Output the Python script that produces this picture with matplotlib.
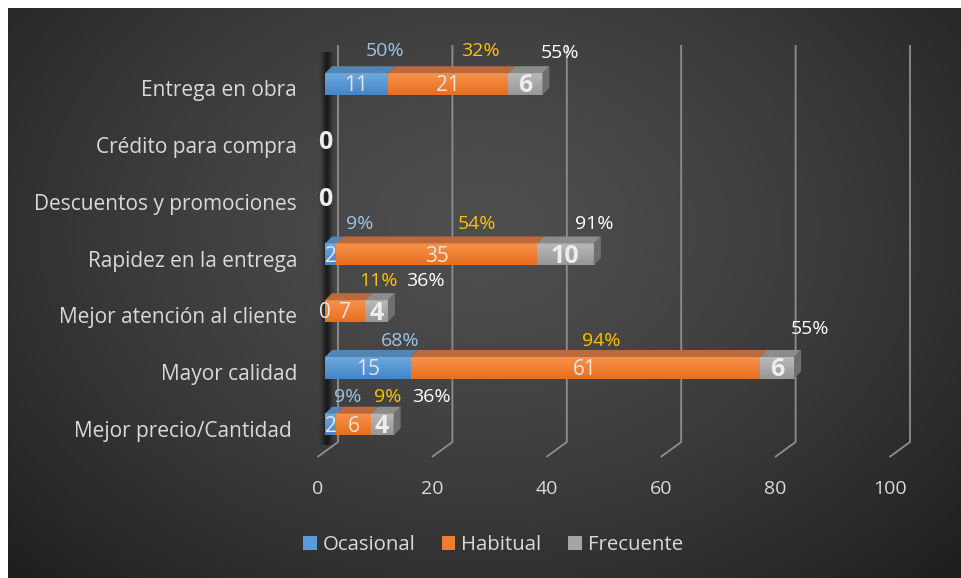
import numpy as np
import matplotlib
matplotlib.use("Agg")
import matplotlib.pyplot as plt
from matplotlib.patches import Polygon, Patch

# ---------------- data ----------------
categories = ["Entrega en obra", "Crédito para compra", "Descuentos y promociones",
              "Rapidez en la entrega", "Mejor atención al cliente", "Mayor calidad",
              "Mejor precio/Cantidad "]
series_names = ["Ocasional", "Habitual", "Frecuente"]
ocasional = [11, 0, 0, 2, 0, 15, 2]
habitual = [21, 0, 0, 35, 7, 61, 6]
frecuente = [6, 0, 0, 10, 4, 6, 4]
pct_ocasional = ["50%", "", "", "9%", "", "68%", "9%"]
pct_habitual = ["32%", "", "", "54%", "11%", "94%", "9%"]
pct_frecuente = ["55%", "", "", "91%", "36%", "55%", "36%"]
xticks = [0, 20, 40, 60, 80, 100]

# ---------------- layout / style ----------------
plt.rcParams['font.family'] = ['Open Sans', 'DejaVu Sans']
W, H = 961, 578
PXU = 5.72      # pixels per value unit
X0 = 325        # pixel of value 0 (bar front face)
ROW = 56.75     # pixels per category row
Y0 = 84         # pixel of first row centre


def dx(px):
    return px / PXU


def dy(px):
    return px / ROW


def py(p):
    return (p - Y0) / ROW


def pxx(p):
    return (p - X0) / PXU


front_top = {"Ocasional": "#6EA8DE", "Habitual": "#F7924C", "Frecuente": "#B9B9B9"}
front_bot = {"Ocasional": "#4486C8", "Habitual": "#E86F1E", "Frecuente": "#979797"}
top_col = {"Ocasional": "#5284B4", "Habitual": "#BC6A3C", "Frecuente": "#8C8C8C"}
side_col = {"Ocasional": "#3E6D9C", "Habitual": "#A9582B", "Frecuente": "#6F6F6F"}
pct_col = {"Ocasional": "#9DC3E6", "Habitual": "#FFC000", "Frecuente": "#FFFFFF"}
legend_col = {"Ocasional": "#5B9BD5", "Habitual": "#ED7D31", "Frecuente": "#A5A5A5"}

pct_dx = {"Ocasional": [29, 0, 0, 29, 0, 32, 17],
          "Habitual": [32, 0, 0, 40, 33, 16, 34],
          "Frecuente": [35, 0, 0, 29, 49, 33, 49]}
pct_dy_row = [-33, 0, 0, -30, -30, -27, -27]
pct_dy_extra = {"Frecuente": [2, 0, 0, 0, 0, -12, 0]}

fig = plt.figure(figsize=(W / 100, H / 100), dpi=100)
fig.patch.set_facecolor("white")
ax = fig.add_axes([0, 0, 1, 1])
ax.axis("off")

# background radial gradient
yy, xx = np.mgrid[8:H, 8:W]
r = np.sqrt(((xx - 480) / 560.0) ** 2 + ((yy - 230) / 420.0) ** 2)
val = np.clip(78 - 38 * np.clip(r, 0, 1.3) ** 1.4, 30, 80) / 255.0
bg = np.dstack([val, val, val])
ax.imshow(bg, extent=(pxx(8), pxx(W), py(H), py(8)), origin="upper",
          aspect="auto", zorder=0, interpolation="bilinear")

# gridlines (back wall + floor diagonal)
for v in xticks:
    xb = v + dx(13)
    ax.plot([xb, xb, xb - dx(20.5)], [py(45), py(442), py(457)],
            color="#8E8E8E", lw=1.3, zorder=1, solid_capstyle="butt")
    ax.text(xb - dx(20), py(489), str(v), ha="center", va="center",
            fontsize=14, color="#D9D9D9", zorder=5)

# soft shadow strip at the left wall
sh_w = 40
alpha = np.exp(-((np.linspace(-1, 1, sh_w)) ** 2) / 0.25) * 0.6
shadow = np.zeros((2, sh_w, 4))
shadow[..., 3] = alpha
ax.imshow(shadow, extent=(pxx(318), pxx(336), py(445), py(52)), origin="upper",
          aspect="auto", zorder=2, interpolation="bilinear")

h = 0.38
ddx, ddy = dx(7), dy(7)
data = {"Ocasional": ocasional, "Habitual": habitual, "Frecuente": frecuente}
pcts = {"Ocasional": pct_ocasional, "Habitual": pct_habitual, "Frecuente": pct_frecuente}

for i, cat in enumerate(categories):
    left = 0
    last = None
    segs = []
    for s in series_names:
        w = data[s][i]
        segs.append((s, left, w))
        if w > 0:
            t = np.linspace(0, 1, 24)[:, None]
            c1 = np.array(matplotlib.colors.to_rgb(front_top[s]))
            c2 = np.array(matplotlib.colors.to_rgb(front_bot[s]))
            grad = (c1 * (1 - t) + c2 * t)[:, None, :]
            ax.imshow(grad, extent=(left, left + w, i + h / 2, i - h / 2),
                      origin="upper", aspect="auto", zorder=3, interpolation="bilinear")
            ax.add_patch(Polygon([(left, i - h / 2), (left + w, i - h / 2),
                                  (left + w + ddx, i - h / 2 - ddy), (left + ddx, i - h / 2 - ddy)],
                                 closed=True, facecolor=top_col[s], edgecolor="none", zorder=3))
            last = s
        left += w
    if last is not None:
        R = left
        ax.add_patch(Polygon([(R, i - h / 2), (R + ddx, i - h / 2 - ddy),
                              (R + ddx, i + h / 2 - ddy), (R, i + h / 2)],
                             closed=True, facecolor=side_col[last], edgecolor="none", zorder=3))
    # value labels (a zero label hidden under a later zero label at the same spot is skipped)
    for k, (s, l, w) in enumerate(segs):
        if w == 0 and k + 1 < len(segs) and segs[k + 1][2] == 0:
            continue
        if s == "Frecuente":
            ax.text(l + w / 2, i + dy(2), str(w), ha="center", va="center",
                    fontsize=18, fontweight="bold", color="#EDEDED", zorder=6)
        else:
            ax.text(l + w / 2, i + dy(2), str(w), ha="center", va="center",
                    fontsize=15, color="#E6E6E6", zorder=6)
    # percentage labels
    for s, l, w in segs:
        lab = pcts[s][i]
        if lab:
            extra = pct_dy_extra.get(s, [0] * len(categories))[i]
            ax.text(l + w / 2 + dx(pct_dx[s][i]), i + dy(pct_dy_row[i] + extra), lab,
                    ha="center", va="center", fontsize=14, color=pct_col[s], zorder=6)
    # category label
    ax.text(pxx(297), i + dy(7), cat, ha="right", va="center",
            fontsize=15, color="#D9D9D9", zorder=6)

ax.set_xlim(-X0 / PXU, (W - X0) / PXU)
ax.set_ylim((H - Y0) / ROW, -Y0 / ROW)

handles = [Patch(facecolor=legend_col[s], edgecolor="none") for s in series_names]
fig.legend(handles, series_names, loc="center", bbox_to_anchor=(493 / W, 1 - 545 / H),
           ncol=3, frameon=False, fontsize=14.7, labelcolor="#D9D9D9",
           handlelength=0.65, handleheight=0.65, handletextpad=0.3, columnspacing=1.3)

fig.savefig("out.png", dpi=100, facecolor="white")
